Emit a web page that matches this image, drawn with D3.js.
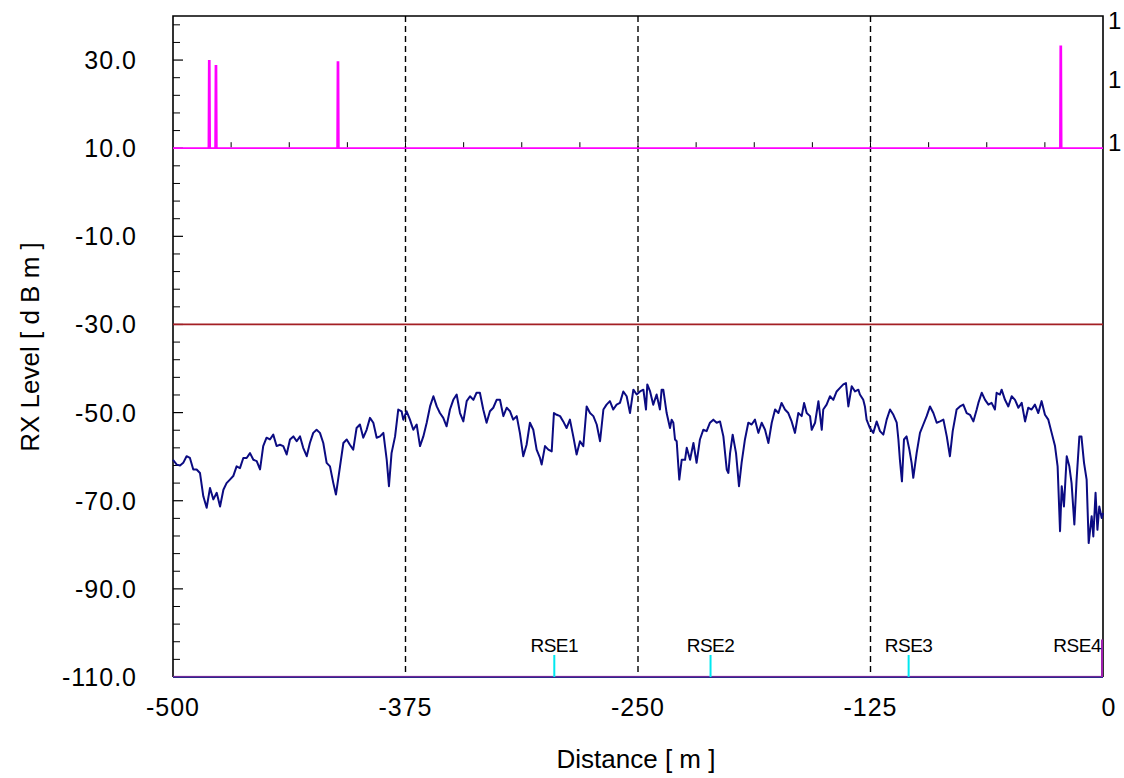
<!DOCTYPE html>
<html>
<head>
<meta charset="utf-8">
<script src="https://cdn.jsdelivr.net/npm/d3@7"></script>
<style>
  html, body { margin: 0; padding: 0; background: #fff; }
  svg { display: block; font-family: "Liberation Sans", Arial, sans-serif; }
</style>
</head>
<body>
<svg id="chart" width="1124" height="778"></svg>
<script>
// Received level along the route (distance in m, level in dBm)
const rxDistance = [
  -500.0,-498.0,-496.2,-494.5,-492.7,-490.9,-489.1,-487.3,-485.5,-483.7,-481.9,-480.1,-478.3,-476.5,-474.7,-472.9,
  -471.2,-469.4,-467.6,-465.8,-464.0,-462.2,-460.4,-458.6,-456.8,-455.0,-453.2,-451.5,-449.7,-447.9,-446.1,-444.3,
  -442.5,-440.7,-438.9,-437.1,-435.3,-433.5,-431.7,-430.0,-428.1,-426.4,-424.6,-422.8,-421.0,-419.2,-417.4,-415.6,
  -413.8,-412.4,-410.2,-408.4,-406.6,-404.9,-403.1,-401.3,-399.5,-397.7,-395.9,-394.1,-392.3,-390.5,-388.7,-386.9,
  -385.1,-383.9,-382.5,-380.6,-378.9,
  -377.1,-376.2,-374.4,-372.6,-370.8,-369.0,-367.2,-365.4,-363.6,-361.8,-360.0,-358.2,-356.5,-354.7,-352.9,-351.1,
  -349.3,-347.5,-345.7,-343.9,-342.1,-340.3,-338.5,-336.8,-335.0,-333.2,-331.4,-329.6,-327.8,-326.0,-324.2,-322.4,
  -320.6,-318.8,-317.1,-315.2,-313.5,-311.7,-309.9,-308.1,-306.3,-304.5,-302.7,-301.8,-300.0,-298.2,-296.4,-295.2,
  -293.7,-291.9,-290.2,-288.4,-286.6,-284.8,-283.0,-281.2,-279.4,-278.5,-277.6,-275.8,-274.0,-272.2,-270.4,-268.6,
  -266.9,-265.1,-263.3,-261.5,-259.7,-257.9,-256.1,-254.3,-252.5,-250.7,
  -248.9,-247.1,-245.7,-245.0,-243.5,-241.8,-240.0,-238.2,-237.3,-236.4,-234.6,-232.8,-231.9,-231.0,-230.1,-229.2,
  -228.3,-227.8,-226.5,-224.7,-223.8,-222.0,-220.2,-218.5,-216.7,-214.9,-213.1,-211.3,-209.5,-207.7,-205.9,-204.1,
  -202.3,-201.4,-200.5,-199.1,-197.3,-195.7,-194.3,-192.5,-190.7,-188.9,-187.1,-185.3,-183.5,-181.7,-179.9,-178.1,
  -176.3,-174.5,-172.8,-171.0,-169.2,-167.4,-165.6,-163.8,-162.0,-160.7,-159.3,-157.5,-156.6,-154.8,-153.0,-151.2,
  -150.4,-148.6,-146.8,-145.0,-143.2,-141.4,-139.6,-138.2,-136.9,-135.1,-133.3,-131.5,
  -130.7,-128.9,-128.0,-127.1,-125.3,-123.5,-121.7,-119.9,-118.1,-116.3,-114.5,-112.7,-110.9,-110.0,-109.2,-108.1,
  -107.0,-105.6,-104.1,-102.9,-102.0,-100.2,-98.4,-96.6,-94.8,-93.0,-91.2,-89.4,-87.6,-85.8,-84.0,-82.3,
  -80.8,-78.7,-76.9,-75.1,-73.3,-71.5,-69.7,-67.9,-67.0,-65.2,-63.4,-61.6,-59.9,-58.1,-57.2,-55.4,
  -54.5,-52.7,-50.9,-49.1,-47.3,-45.5,-43.7,-41.9,-40.2,-38.4,-36.6,-34.8,-33.0,-31.2,-29.4,-27.6,
  -25.8,-24.4,-23.1,-22.2,-21.0,-19.5,-18.1,-16.9,-15.4,-14.2,-12.7,-11.6,-10.2,-8.8,-7.7,-6.1,
  -5.2,-4.0,-3.0,-2.0,-0.7,0.0
];
const rxLevel = [
  -60.7,-61.8,-62.0,-61.4,-59.9,-60.3,-62.9,-62.9,-63.7,-69.0,-71.6,-67.1,-69.7,-68.2,-71.3,-67.5,
  -66.0,-65.2,-64.4,-62.2,-62.6,-60.3,-60.3,-59.2,-60.7,-61.0,-62.9,-57.6,-55.7,-56.1,-55.0,-57.6,
  -57.3,-57.6,-59.5,-56.1,-55.4,-56.5,-55.4,-58.0,-59.9,-56.9,-54.6,-53.9,-54.6,-56.9,-61.4,-62.2,
  -66.0,-68.6,-62.2,-56.9,-56.1,-57.3,-58.4,-53.5,-52.7,-55.7,-53.9,-51.2,-52.3,-55.7,-55.4,-54.6,
  -60.7,-66.7,-59.2,-55.4,-49.3,
  -49.7,-51.6,-49.7,-51.6,-53.9,-52.7,-57.6,-55.4,-52.3,-48.6,-46.3,-48.6,-50.1,-51.2,-53.1,-49.3,
  -47.1,-45.9,-50.1,-52.0,-47.4,-46.3,-47.1,-45.5,-45.5,-49.3,-52.3,-49.7,-48.9,-47.1,-47.1,-50.8,
  -48.9,-49.7,-51.6,-50.8,-54.6,-59.9,-57.3,-52.3,-53.9,-58.4,-60.3,-61.8,-57.6,-58.4,-58.8,-50.1,
  -50.5,-50.8,-52.0,-53.5,-51.6,-55.4,-59.5,-56.5,-57.6,-53.1,-48.6,-50.1,-50.8,-52.7,-56.5,-49.3,
  -48.2,-47.4,-49.3,-48.2,-47.8,-45.2,-46.3,-50.1,-44.8,-45.9,
  -45.2,-44.8,-49.3,-43.6,-45.2,-48.2,-45.9,-49.3,-44.8,-44.8,-50.1,-53.5,-51.6,-52.3,-56.1,-56.5,
  -62.2,-65.2,-60.7,-60.7,-58.0,-60.7,-56.9,-61.4,-56.1,-53.9,-54.2,-52.3,-51.6,-52.3,-52.0,-55.4,
  -62.9,-63.7,-59.2,-55.0,-59.2,-66.7,-61.4,-56.1,-52.3,-52.7,-51.6,-54.6,-52.3,-53.9,-56.9,-52.3,
  -49.3,-50.1,-47.8,-49.3,-50.1,-52.0,-54.6,-50.1,-50.8,-47.8,-50.1,-50.8,-53.9,-52.3,-47.4,-53.9,
  -49.3,-48.2,-46.3,-47.1,-45.2,-44.4,-43.6,-43.3,-48.6,-44.0,-45.2,-44.8,
  -45.9,-47.1,-48.6,-51.6,-53.5,-54.6,-52.0,-54.2,-55.0,-51.6,-49.3,-50.5,-52.3,-56.1,-60.7,-65.6,
  -56.1,-55.4,-58.4,-61.4,-64.8,-59.2,-54.6,-52.7,-50.8,-48.6,-50.1,-52.3,-52.0,-51.6,-55.4,-59.9,
  -54.2,-49.3,-48.6,-48.2,-50.1,-50.5,-52.0,-49.3,-47.8,-45.5,-47.1,-48.2,-47.8,-49.3,-45.5,-45.9,
  -44.8,-47.1,-48.6,-46.3,-47.1,-48.9,-47.8,-52.0,-48.9,-49.3,-48.2,-50.1,-47.4,-50.5,-51.6,-54.6,
  -57.6,-62.2,-76.9,-66.7,-71.3,-59.9,-62.2,-66.0,-75.4,-65.2,-55.4,-55.4,-61.4,-65.2,-79.6,-73.5,
  -78.1,-68.2,-76.6,-71.3,-73.9,-72.8
];

// Upper trace: flat level with a few short peaks
const upperBase = 10;
const peakDistance = [-480.5, -476.9, -411.3, -22.7];
const peakLevel = [29.8, 28.7, 29.5, 33.1];

// Reference level
const refLevel = -30;

// Section boundaries
const sectionLines = [-375, -250, -125];

// RSE sites along the route
const rseNames = ["RSE1", "RSE2", "RSE3", "RSE4"];
const rseDistance = [-295, -211, -104.5, 0];

// Axis ticks
const xTicks = [-500, -375, -250, -125, 0];
const xTickLabels = ["-500", "-375", "-250", "-125", "0"];
const yTicks = [30, 10, -10, -30, -50, -70, -90, -110];
const yTickLabels = ["30.0", "10.0", "-10.0", "-30.0", "-50.0", "-70.0", "-90.0", "-110.0"];
const yMinorStep = 4;
const upperMinorStep = 31.25;
const rightTicks = [0.045, 0.52, 0.97];
const rightTickLabels = ["1", "1", "1"];

// ---- layout ----
const svg = d3.select("#chart");
const W = 1124, H = 778;
const plot = { left: 173, right: 1103, top: 16, bottom: 677 };
const font = '"Liberation Sans", Arial, sans-serif';

const x = d3.scaleLinear().domain([-500, 0]).range([plot.left, plot.right]);
const y = d3.scaleLinear().domain([-110, 40]).range([plot.bottom, plot.top]);
const yRight = d3.scaleLinear().domain([0, 1]).range([y(upperBase), plot.top]);

svg.append("rect").attr("width", W).attr("height", H).attr("fill", "#fff");

// frame: left, top, right
svg.append("path")
  .attr("d", `M${plot.left},${plot.bottom}V${plot.top}H${plot.right}V${plot.bottom}`)
  .attr("fill", "none").attr("stroke", "#000").attr("stroke-width", 1.6);

// left axis ticks (pointing inward)
const yMinor = d3.range(-110, 40, yMinorStep).filter(v => !yTicks.includes(v));
svg.append("g").selectAll("line.minor").data(yMinor).join("line")
  .attr("x1", plot.left).attr("x2", plot.left + 7)
  .attr("y1", d => y(d)).attr("y2", d => y(d))
  .attr("stroke", "#000").attr("stroke-width", 1);
svg.append("g").selectAll("line.major").data(yTicks).join("line")
  .attr("x1", plot.left).attr("x2", plot.left + 10)
  .attr("y1", d => y(d)).attr("y2", d => y(d))
  .attr("stroke", "#000").attr("stroke-width", 1.2);

// left tick labels
svg.append("g").selectAll("text").data(yTicks).join("text")
  .attr("x", 137).attr("y", d => y(d))
  .attr("dy", "0.36em")
  .attr("text-anchor", "end")
  .attr("font-family", font).attr("font-size", 25)
  .attr("letter-spacing", 1)
  .text((d, i) => yTickLabels[i]);

// bottom tick labels
svg.append("g").selectAll("text").data(xTicks).join("text")
  .attr("x", (d, i) => x(d) + (i === xTicks.length - 1 ? 6 : 0))
  .attr("y", 716)
  .attr("text-anchor", "middle")
  .attr("font-family", font).attr("font-size", 25)
  .attr("letter-spacing", 1)
  .text((d, i) => xTickLabels[i]);

// right tick labels (secondary scale of the upper trace)
svg.append("g").selectAll("text").data(rightTicks).join("text")
  .attr("x", 1108).attr("y", d => yRight(d))
  .attr("dy", "0.36em")
  .attr("font-family", font).attr("font-size", 24)
  .text((d, i) => rightTickLabels[i]);

// axis titles
svg.append("text")
  .attr("transform", `translate(39,347) rotate(-90)`)
  .attr("text-anchor", "middle")
  .attr("font-family", font).attr("font-size", 26)
  .text("RX Level [ d B m ]");
svg.append("text")
  .attr("x", 636).attr("y", 768)
  .attr("text-anchor", "middle")
  .attr("font-family", font).attr("font-size", 26)
  .text("Distance [ m ]");

// section boundaries
svg.append("g").selectAll("line").data(sectionLines).join("line")
  .attr("x1", d => x(d)).attr("x2", d => x(d))
  .attr("y1", plot.top).attr("y2", plot.bottom)
  .attr("stroke", "#000").attr("stroke-width", 1.4)
  .attr("stroke-dasharray", "6,4");

// reference level line
svg.append("line")
  .attr("x1", x(-500)).attr("x2", x(0))
  .attr("y1", y(refLevel)).attr("y2", y(refLevel))
  .attr("stroke", "#a31f24").attr("stroke-width", 1.8);

// upper trace with peaks
const upperPts = [[-500, upperBase]];
peakDistance.forEach((d, i) => {
  upperPts.push([d - 0.45, upperBase], [d - 0.25, peakLevel[i]], [d + 0.25, peakLevel[i]], [d + 0.45, upperBase]);
});
upperPts.push([0, upperBase]);
const line = d3.line().x(p => x(p[0])).y(p => y(p[1]));
svg.append("path").datum(upperPts)
  .attr("d", line)
  .attr("fill", "none").attr("stroke", "#ff00ff").attr("stroke-width", 1.8);

// small ticks on the upper trace baseline
const upperMinor = d3.range(-500 + upperMinorStep, 0, upperMinorStep);
svg.append("g").selectAll("line").data(upperMinor).join("line")
  .attr("x1", d => x(d)).attr("x2", d => x(d))
  .attr("y1", y(upperBase) - 1).attr("y2", y(upperBase) - 6)
  .attr("stroke", "#000").attr("stroke-width", 1);

// RX level trace
const rxPts = rxDistance.map((d, i) => [d, rxLevel[i]]);
svg.append("path").datum(rxPts)
  .attr("d", line)
  .attr("fill", "none").attr("stroke", "#0b0b82").attr("stroke-width", 2)
  .attr("stroke-linejoin", "round");

// route baseline at the bottom
svg.append("line")
  .attr("x1", x(-500)).attr("x2", x(0))
  .attr("y1", y(-110)).attr("y2", y(-110))
  .attr("stroke", "#2c2a8c").attr("stroke-width", 2.2);
svg.append("line")
  .attr("x1", x(-500)).attr("x2", x(0))
  .attr("y1", y(-110) - 0.6).attr("y2", y(-110) - 0.6)
  .attr("stroke", "#7a2a9a").attr("stroke-width", 1);

// RSE markers and names
const rse = svg.append("g");
rseDistance.forEach((d, i) => {
  const last = i === rseDistance.length - 1;
  rse.append("line")
    .attr("x1", x(d) - (last ? 1 : 0)).attr("x2", x(d) - (last ? 1 : 0))
    .attr("y1", y(-110)).attr("y2", y(last ? -101.5 : -105))
    .attr("stroke", last ? "#a020b0" : "#00e8f0").attr("stroke-width", 2);
  rse.append("text")
    .attr("x", last ? x(d) - 2 : x(d))
    .attr("y", 652)
    .attr("text-anchor", last ? "end" : "middle")
    .attr("font-family", font).attr("font-size", 19)
    .attr("letter-spacing", -0.5)
    .text(rseNames[i]);
});
</script>
</body>
</html>
